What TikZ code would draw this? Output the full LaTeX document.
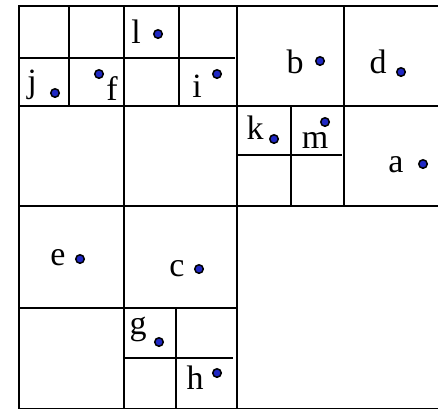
\documentclass[tikz,border=0pt]{standalone}
\usepackage{fontspec}
\setmainfont{Liberation Serif}
\definecolor{ptblue}{RGB}{32,40,196}
\begin{document}
\begin{tikzpicture}[x=1pt,y=-1pt,
  grid/.style={line width=1.3pt},
  pt/.style={circle,draw=black,fill=ptblue,line width=1.5pt,inner sep=0pt,minimum size=8.5pt},
  lbl/.style={anchor=base,inner sep=0pt,font=\fontsize{34}{34}\selectfont}]
\useasboundingbox (0,0) rectangle (438,408);
\clip (0,0) rectangle (438,408);
% outer square
\draw[line width=2pt] (19,6) rectangle (470,408.6);
% halves
\draw[grid] (19,206) -- (438,206);
\draw[grid] (237,6) -- (237,408);
% quarters
\draw[grid] (19,106) -- (438,106);
\draw[grid] (124,6) -- (124,408);
\draw[grid] (344,6) -- (344,206);
\draw[grid] (19,308) -- (237,308);
% eighths
\draw[grid] (19,58) -- (235,58);
\draw[grid] (69,6) -- (69,106);
\draw[grid] (179,6) -- (179,106);
\draw[grid] (237,155) -- (342,155);
\draw[grid] (291,106) -- (291,206);
\draw[grid] (124,358) -- (233,358);
\draw[grid] (176,308) -- (176,408);
% points
\node[pt] (pa) at (423,164) {};
\node[pt] (pb) at (320,61) {};
\node[pt] (pc) at (199,269) {};
\node[pt] (pd) at (401,72) {};
\node[pt] (pe) at (80,259) {};
\node[pt] (pf) at (99,74) {};
\node[pt] (pg) at (159,342) {};
\node[pt] (ph) at (217,373) {};
\node[pt] (pi) at (217,74) {};
\node[pt] (pj) at (55,93) {};
\node[pt] (pk) at (274,139) {};
\node[pt] (pl) at (158,34) {};
\node[pt] (pm) at (325,122) {};
% labels
\node[lbl] (la) at (396,172) {a};
\node[lbl] (lb) at (295,73) {b};
\node[lbl] (lc) at (177,276) {c};
\node[lbl] (ld) at (378,73) {d};
\node[lbl] (le) at (58,265) {e};
\node[lbl] (lf) at (112,100) {f};
\node[lbl] (lg) at (138,334) {g};
\node[lbl] (lh) at (195,389) {h};
\node[lbl] (li) at (197,97) {i};
\node[lbl] (lj) at (32,92) {j};
\node[lbl] (lk) at (255,139) {k};
\node[lbl] (ll) at (136,43) {l};
\node[lbl] (lm) at (315,148) {m};
\end{tikzpicture}
\end{document}
